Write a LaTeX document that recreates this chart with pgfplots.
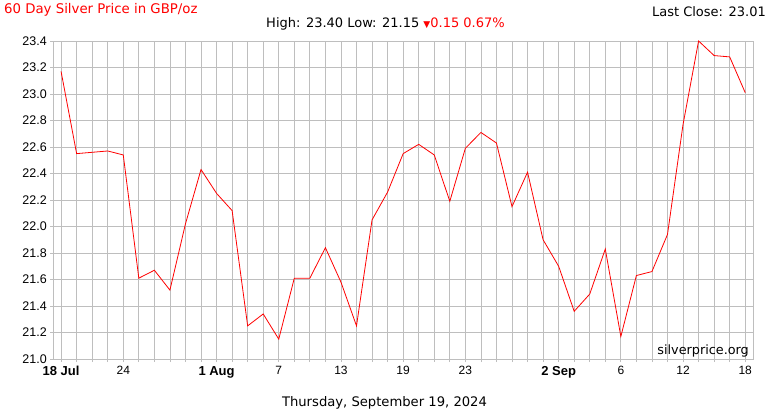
\documentclass[border=0pt]{standalone}
\usepackage{fontspec}
\setmainfont{DejaVu Sans}
\newfontfamily\tickfont{Liberation Sans}
\usepackage{pgfplots}
\pgfplotsset{compat=1.18}

\definecolor{chartred}{RGB}{255,0,0}
\definecolor{gridgray}{RGB}{190,190,190}

% 60 trading days of silver, GBP/oz (index 0 = 18 Jul)
\pgfplotstableread{
idx price
0  23.17
1  22.55
2  22.56
3  22.57
4  22.54
5  21.61
6  21.67
7  21.52
8  22.02
9  22.43
10 22.25
11 22.12
12 21.25
13 21.34
14 21.15
15 21.61
16 21.61
17 21.84
18 21.58
19 21.25
20 22.05
21 22.26
22 22.55
23 22.62
24 22.54
25 22.19
26 22.59
27 22.71
28 22.63
29 22.15
30 22.41
31 21.90
32 21.70
33 21.36
34 21.49
35 21.83
36 21.17
37 21.63
38 21.66
39 21.94
40 22.77
41 23.40
42 23.29
43 23.28
44 23.01
}\silver

\newcommand{\mon}[1]{{\fontsize{13}{13}\selectfont\bfseries #1}}

\begin{document}
\begin{tikzpicture}
\begin{axis}[
    name=ax, anchor=south west,
    width=699.7pt, height=318pt, scale only axis,
    xmin=-0.5, xmax=44.5,
    ymin=21, ymax=23.4,
    ytick={21,21.2,21.4,21.6,21.8,22,22.2,22.4,22.6,22.8,23,23.2,23.4},
    yticklabel style={/pgf/number format/fixed, /pgf/number format/fixed zerofill,
                      /pgf/number format/precision=1,
                      font=\tickfont\fontsize{12.5}{12.5}\selectfont},
    xtick={0,4,10,14,18,22,26,32,36,40,44},
    xticklabels={\mon{18 Jul},24,\mon{1 Aug},7,13,19,23,\mon{2 Sep},6,12,18},
    xticklabel style={font=\tickfont\fontsize{12}{12}\selectfont, anchor=north, yshift=-1pt},
    minor xtick={0,...,44},
    /pgf/number format/assume math mode=true,
    xmajorgrids, xminorgrids, ymajorgrids,
    grid style={gridgray, line width=0.75pt},
    minor grid style={gridgray, line width=0.75pt},
    axis line style={gridgray, line width=0.75pt},
    tick style={gridgray, line width=0.75pt},
    tick align=outside,
    major tick length=3pt, minor tick length=3pt,
    xtick pos=bottom, ytick pos=left,
    clip=false,
]
\addplot[chartred, line width=0.8pt] table[x=idx, y=price] {\silver};
\end{axis}

\begin{scope}[shift={(ax.south west)}, xshift=-53.3pt, yshift=-51pt, x=1pt, y=1pt]
\useasboundingbox (0,0) rectangle (770,410);
\node[anchor=west, inner sep=0pt, text=chartred, font=\fontsize{13.3}{13.3}\selectfont] at (4,400) {60 Day Silver Price in GBP/oz};
\node[anchor=east, inner sep=0pt, font=\fontsize{13}{13}\selectfont] at (766,398) {Last Close: 23.01};
\node[inner sep=0pt, font=\fontsize{13}{13}\selectfont] at (385.5,386) {High: 23.40 Low: 21.15 \textcolor{chartred}{{\fontsize{9}{9}\selectfont ▼}0.15 0.67\%}};
\node[inner sep=0pt, font=\fontsize{13.15}{13.15}\selectfont] at (384.5,7) {Thursday, September 19, 2024};
\node[anchor=east, inner sep=0pt, font=\fontsize{12.8}{12.8}\selectfont] at (749,59) {silverprice.org};
\end{scope}
\end{tikzpicture}
\end{document}
